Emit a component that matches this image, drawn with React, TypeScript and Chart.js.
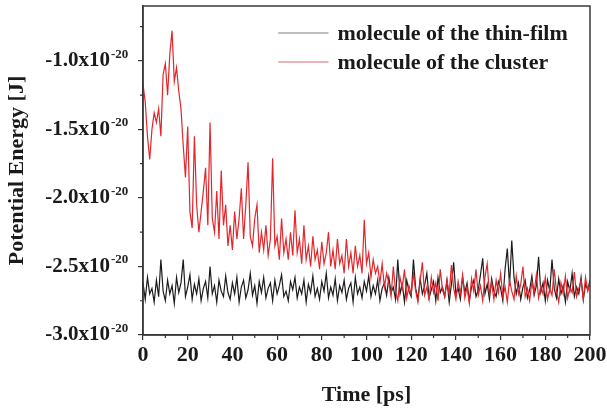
import React, { useEffect, useRef } from "react";
import { Chart, registerables } from "chart.js";

Chart.register(...registerables);

// Potential energy in units of 1e-20 J, sampled every 1 ps (t = 0..200)
const thinFilm = [
  -2.62, -2.74, -2.58, -2.70, -2.66, -2.76, -2.60, -2.72, -2.45, -2.68,
  -2.75, -2.60, -2.70, -2.64, -2.77, -2.58, -2.69, -2.62, -2.45, -2.72,
  -2.65, -2.56, -2.74, -2.63, -2.70, -2.59, -2.75, -2.66, -2.61, -2.73,
  -2.50, -2.70, -2.64, -2.76, -2.60, -2.68, -2.72, -2.57, -2.69, -2.74,
  -2.62, -2.70, -2.58, -2.76, -2.65, -2.60, -2.73, -2.67, -2.55, -2.71,
  -2.64, -2.77, -2.61, -2.69, -2.58, -2.73, -2.66, -2.62, -2.75, -2.60,
  -2.70, -2.64, -2.56, -2.72, -2.68, -2.75, -2.61, -2.67, -2.58, -2.73,
  -2.65, -2.70, -2.60, -2.76, -2.63, -2.69, -2.57, -2.72, -2.66, -2.74,
  -2.61, -2.68, -2.55, -2.73, -2.65, -2.71, -2.59, -2.75, -2.64, -2.69,
  -2.60, -2.74, -2.66, -2.62, -2.76, -2.58, -2.70, -2.65, -2.73, -2.61,
  -2.68, -2.57, -2.72, -2.64, -2.70, -2.60, -2.75, -2.66, -2.62, -2.71,
  -2.58, -2.69, -2.65, -2.74, -2.45, -2.70, -2.63, -2.76, -2.60, -2.68,
  -2.72, -2.45, -2.66, -2.74, -2.59, -2.70, -2.64, -2.55, -2.73, -2.67,
  -2.61, -2.75, -2.58, -2.69, -2.65, -2.72, -2.60, -2.76, -2.63, -2.47,
  -2.70, -2.66, -2.74, -2.58, -2.69, -2.62, -2.75, -2.65, -2.60, -2.72,
  -2.67, -2.56, -2.44, -2.70, -2.63, -2.74, -2.59, -2.68, -2.72, -2.61,
  -2.66, -2.75, -2.52, -2.37, -2.64, -2.31, -2.58, -2.70, -2.62, -2.74,
  -2.65, -2.60, -2.73, -2.67, -2.57, -2.71, -2.64, -2.43, -2.69, -2.62,
  -2.75, -2.60, -2.68, -2.45, -2.66, -2.73, -2.59, -2.70, -2.64, -2.76,
  -2.61, -2.68, -2.55, -2.72, -2.65, -2.70, -2.58, -2.74, -2.63, -2.67,
  -2.60,
];

const cluster = [
  -1.17, -1.30, -1.55, -1.72, -1.50, -1.38, -1.45, -1.35, -1.55, -1.10,
  -1.02, -1.25, -0.95, -0.78, -1.15, -1.05, -1.22, -1.35, -1.62, -1.85,
  -1.48, -2.10, -2.22, -1.55, -2.05, -2.25, -2.10, -1.95, -1.78, -2.20,
  -1.45, -2.15, -2.25, -1.95, -2.30, -1.80, -2.20, -2.05, -2.35, -2.20,
  -2.38, -2.10, -2.30, -2.15, -1.93, -2.30, -2.05, -1.74, -2.28, -2.35,
  -2.15, -2.05, -2.40, -2.25, -2.38, -2.20, -2.42, -2.30, -1.71, -2.35,
  -2.28, -2.45, -2.15, -2.40, -2.30, -2.45, -2.25, -2.42, -2.09, -2.40,
  -2.30, -2.48, -2.20, -2.45, -2.35, -2.50, -2.28, -2.45, -2.38, -2.52,
  -2.32, -2.48, -2.40, -2.25, -2.50, -2.38, -2.52, -2.30, -2.48, -2.42,
  -2.55, -2.30, -2.50, -2.40, -2.55, -2.35, -2.50, -2.42, -2.55, -2.16,
  -2.48, -2.40, -2.58, -2.45, -2.55, -2.50, -2.62, -2.48, -2.65, -2.55,
  -2.62, -2.72, -2.50, -2.68, -2.75, -2.58, -2.66, -2.52, -2.73, -2.64,
  -2.70, -2.55, -2.68, -2.76, -2.60, -2.47, -2.71, -2.65, -2.74, -2.58,
  -2.69, -2.62, -2.75, -2.52, -2.67, -2.72, -2.60, -2.70, -2.49, -2.66,
  -2.74, -2.61, -2.70, -2.56, -2.73, -2.65, -2.77, -2.59, -2.68, -2.52,
  -2.71, -2.64, -2.75, -2.58, -2.48, -2.70, -2.62, -2.74, -2.60, -2.69,
  -2.55, -2.72, -2.65, -2.76, -2.60, -2.68, -2.74, -2.57, -2.70, -2.63,
  -2.50, -2.72, -2.66, -2.75, -2.61, -2.69, -2.56, -2.73, -2.64, -2.70,
  -2.58, -2.74, -2.66, -2.71, -2.52, -2.68, -2.76, -2.62, -2.70, -2.57,
  -2.73, -2.65, -2.69, -2.54, -2.72, -2.66, -2.60, -2.74, -2.58, -2.68,
  -2.62,
];

const times = thinFilm.map((_, i) => i);

const seriesLabels = ["molecule of the thin-film", "molecule of the cluster"];
const seriesColors = ["#1c1c1c", "#e3262b"];
const legendLineColors = ["#a8a8a8", "#e89aa0"];

const xTicks = [0, 20, 40, 60, 80, 100, 120, 140, 160, 180, 200];
const xMinorTicks = [10, 30, 50, 70, 90, 110, 130, 150, 170, 190];
const yTicks = [-3.0, -2.5, -2.0, -1.5, -1.0];
const yMinorTicks = [-2.75, -2.25, -1.75, -1.25, -0.75];
const yExponent = "-20";

const FONT = '"Liberation Serif", "Times New Roman", serif';
const TICK_LEN = 5;
const Y_PAD = 28;

const decorPlugin = {
  id: "decor",
  afterDraw(chart: any) {
    const { ctx, chartArea } = chart;
    const { left, right, top, bottom } = chartArea;
    const x = chart.scales.x;
    const y = chart.scales.y;
    ctx.save();
    // frame
    ctx.strokeStyle = "#3a3a3a";
    ctx.lineWidth = 1.5;
    ctx.strokeRect(left, top, right - left, bottom - top);
    // minor ticks
    ctx.lineWidth = 1.2;
    ctx.strokeStyle = "#333";
    ctx.beginPath();
    xMinorTicks.forEach((v) => {
      const px = x.getPixelForValue(v);
      ctx.moveTo(px, bottom);
      ctx.lineTo(px, bottom + 3);
    });
    yMinorTicks.forEach((v) => {
      const py = y.getPixelForValue(v);
      ctx.moveTo(left, py);
      ctx.lineTo(left - 3, py);
    });
    ctx.stroke();
    // exponents of the y tick labels
    const labelRight = left - TICK_LEN - Y_PAD;
    ctx.fillStyle = "#222";
    ctx.font = `bold 13px ${FONT}`;
    ctx.textAlign = "left";
    ctx.textBaseline = "alphabetic";
    yTicks.forEach((v) => {
      const py = y.getPixelForValue(v);
      ctx.fillText(yExponent, labelRight + 1, py - 3);
    });
    // legend
    const legendX0 = x.getPixelForValue(60.5);
    const legendX1 = x.getPixelForValue(83);
    const textX = x.getPixelForValue(87);
    const rowY = [33, 62];
    ctx.font = `bold 22px ${FONT}`;
    ctx.textBaseline = "middle";
    seriesLabels.forEach((label, i) => {
      ctx.strokeStyle = legendLineColors[i];
      ctx.lineWidth = 1.5;
      ctx.beginPath();
      ctx.moveTo(legendX0, rowY[i]);
      ctx.lineTo(legendX1, rowY[i]);
      ctx.stroke();
      ctx.fillStyle = "#1a1a1a";
      ctx.fillText(label, textX, rowY[i] + 1);
    });
    ctx.restore();
  },
};

export default function App() {
  const canvasRef = useRef<HTMLCanvasElement | null>(null);

  useEffect(() => {
    document.body.style.margin = "0";
    const canvas = canvasRef.current;
    if (!canvas) return;
    const chart = new Chart(canvas, {
      type: "line",
      data: {
        labels: times,
        datasets: [
          {
            label: seriesLabels[0],
            data: thinFilm,
            borderColor: seriesColors[0],
            borderWidth: 1.2,
            pointRadius: 0,
            tension: 0,
            order: 2,
          },
          {
            label: seriesLabels[1],
            data: cluster,
            borderColor: seriesColors[1],
            borderWidth: 1.2,
            pointRadius: 0,
            tension: 0,
            order: 1,
          },
        ],
      },
      options: {
        animation: false,
        responsive: false,
        devicePixelRatio: 1,
        layout: { autoPadding: false, padding: { top: 6, right: 17, left: 0, bottom: 0 } },
        plugins: { legend: { display: false }, tooltip: { enabled: false } },
        scales: {
          x: {
            type: "linear",
            min: 0,
            max: 200,
            afterBuildTicks: (s: any) => {
              s.ticks = xTicks.map((v) => ({ value: v }));
            },
            afterFit: (s: any) => {
              s.height = 77;
              s.paddingLeft = 0;
              s.paddingRight = 0;
            },
            grid: {
              drawOnChartArea: false,
              drawTicks: true,
              tickLength: TICK_LEN,
              color: "#333",
              lineWidth: 1.2,
            },
            border: { color: "#333", width: 1.5 },
            ticks: {
              color: "#1a1a1a",
              padding: 2,
              maxRotation: 0,
              autoSkip: false,
              font: { family: FONT, size: 22, weight: "bold" },
              callback: (v: any) => String(v),
            },
            title: {
              display: true,
              text: "Time [ps]",
              color: "#1a1a1a",
              font: { family: FONT, size: 22, weight: "bold" },
              padding: { top: 0, bottom: 3 },
            },
          },
          y: {
            type: "linear",
            min: -3.0,
            max: -0.6,
            afterBuildTicks: (s: any) => {
              s.ticks = yTicks.map((v) => ({ value: v }));
            },
            afterFit: (s: any) => {
              s.width = 143;
              s.paddingTop = 0;
              s.paddingBottom = 0;
            },
            grid: {
              drawOnChartArea: false,
              drawTicks: true,
              tickLength: TICK_LEN,
              color: "#333",
              lineWidth: 1.2,
            },
            border: { color: "#333", width: 1.5 },
            ticks: {
              color: "#1a1a1a",
              padding: Y_PAD,
              autoSkip: false,
              font: { family: FONT, size: 21, weight: "bold" },
              callback: (v: any) => `${Number(v).toFixed(1)}x10`,
            },
            title: {
              display: true,
              text: "Potential Energy [J]",
              color: "#1a1a1a",
              font: { family: FONT, size: 22, weight: "bold" },
              padding: { top: 4, bottom: 0 },
            },
          },
        },
      },
      plugins: [decorPlugin],
    });
    return () => chart.destroy();
  }, []);

  return (
    <div style={{ width: 607, height: 412 }}>
      <canvas ref={canvasRef} width={607} height={412} />
    </div>
  );
}
